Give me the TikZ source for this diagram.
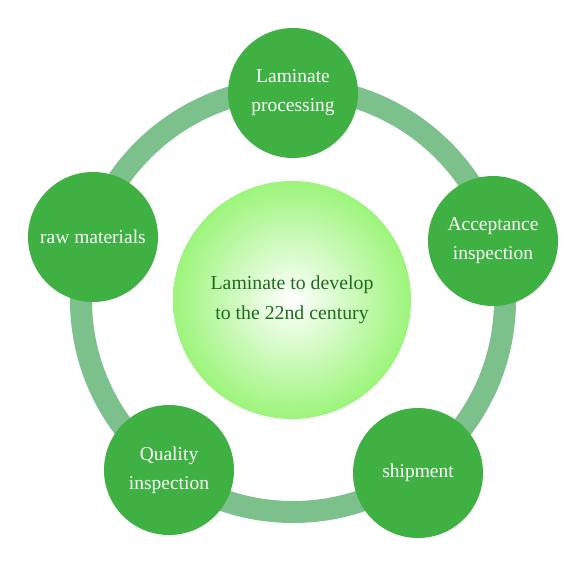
\documentclass[tikz,border=0pt]{standalone}
\usepackage{fontspec}
\setmainfont{Liberation Serif}
\definecolor{ringc}{HTML}{7CC08B}
\definecolor{stepc}{HTML}{3FB042}
\definecolor{hubedge}{HTML}{9CF57A}
\definecolor{hubtext}{HTML}{1F6B1F}
\begin{document}
\begin{tikzpicture}[x=1pt,y=-1pt,
  stepnode/.style={circle,fill=stepc,minimum size=130pt,inner sep=0pt,text=white,align=center,font=\fontsize{19.5}{29}\selectfont},
  hubnode/.style={circle,inner color=white,outer color=hubedge,minimum size=238pt,inner sep=0pt,text=hubtext,align=center,font=\fontsize{19.8}{30}\selectfont}]
\useasboundingbox (0,0) rectangle (588,567);
\coordinate (c) at (293,300);
\draw[ringc,line width=22pt] (c) circle[radius=212];
\node[hubnode] (hub) at (292,300) {Laminate to develop\\to the 22nd century};
\node[stepnode] (lam) at (293,93) {Laminate\\processing};
\node[stepnode] (raw) at (93,237) {raw materials};
\node[stepnode] (acc) at (493,241) {Acceptance\\inspection};
\node[stepnode] (ship) at (418,473) {shipment};
\node[stepnode] (qual) at (169,470) {Quality\\inspection};
\end{tikzpicture}
\end{document}
